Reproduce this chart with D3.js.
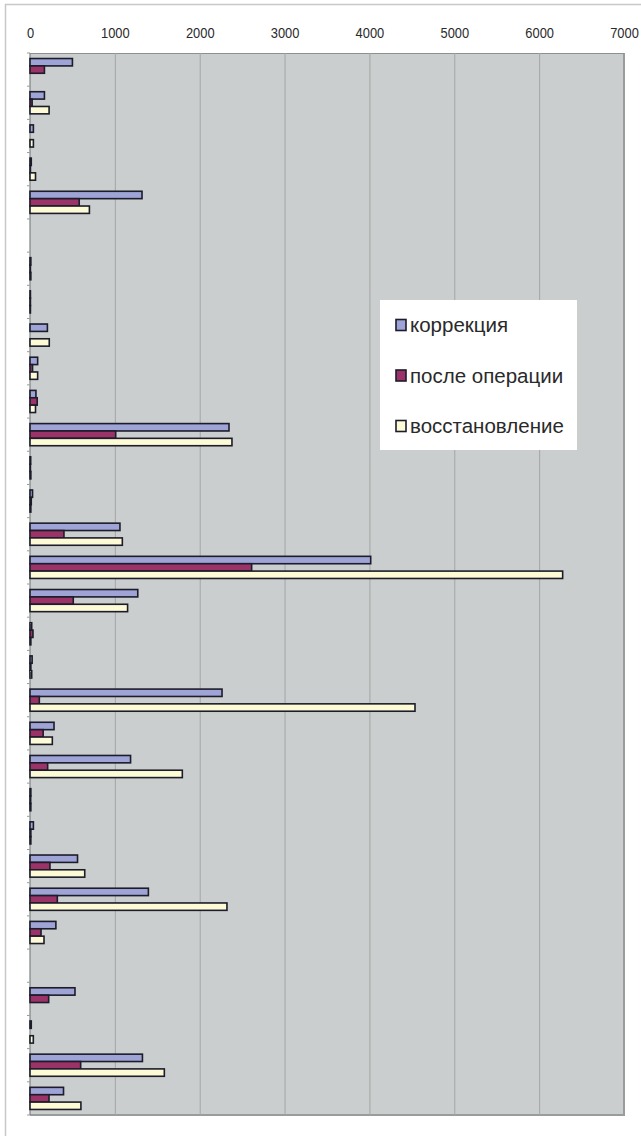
<!DOCTYPE html>
<html>
<head>
<meta charset="utf-8">
<script src="https://cdn.jsdelivr.net/npm/d3@7"></script>
<style>
  html, body { margin: 0; padding: 0; background: #fff; }
  svg { display: block; }
</style>
</head>
<body>
<svg id="chart" width="641" height="1136"></svg>
<script>
// Category slots (the chart draws them without labels)
const categories = d3.range(1, 33).map(String);

// Series values, one per category (null = no bar)
const korrekcia = [500, 170, 40, 15, 1320, null, 10, 5, 205, 90, 70, 2345, 8, 30, 1060, 4015,
                   1270, 20, 25, 2263, 283, 1185, 10, 40, 560, 1395, 305, null, 530, 15, 1325, 395];
const posleOperacii = [170, 25, 0, 5, 580, null, 5, 5, 0, 30, 85, 1010, 5, 15, 400, 2612,
                       510, 35, 10, 110, 155, 208, 8, 10, 235, 322, 130, null, 220, 0, 597, 224];
const vosstanovlenie = [0, 225, 40, 65, 700, null, 10, 5, 227, 90, 65, 2380, 10, 10, 1088, 6277,
                        1150, 10, 20, 4537, 263, 1795, 10, 10, 645, 2321, 165, null, 0, 39, 1583, 600];

const seriesNames = ["коррекция", "после операции", "восстановление"];
const seriesValues = [korrekcia, posleOperacii, vosstanovlenie];
const seriesColors = ["#9ea4d6", "#9b3368", "#fdfbd6"];

const xTicks = [0, 1000, 2000, 3000, 4000, 5000, 6000, 7000];

const svg = d3.select("#chart");
const plot = { left: 30, right: 624, top: 53, bottom: 1115 };

// Outer frame
svg.append("path")
  .attr("d", `M5.5,1136 V4.5 H641`)
  .attr("fill", "none").attr("stroke", "#c8c8c8").attr("stroke-width", 1.5);

const x = d3.scaleLinear().domain([0, 7000]).range([plot.left, plot.right]);
const y0 = d3.scaleBand().domain(categories)
  .range([plot.top, plot.bottom]).paddingInner(1 / 3).paddingOuter(1 / 6);
const y1 = d3.scaleBand().domain(d3.range(3)).range([0, y0.bandwidth()]);

// Plot background with a darker right/bottom edge
svg.append("rect")
  .attr("x", plot.left).attr("y", plot.top)
  .attr("width", plot.right - plot.left).attr("height", plot.bottom - plot.top)
  .attr("fill", "#cbcece");
svg.append("path")
  .attr("d", `M${plot.right},${plot.top} V${plot.bottom} H${plot.left}`)
  .attr("fill", "none").attr("stroke", "#9a9c9c").attr("stroke-width", 2);
svg.append("line")
  .attr("x1", plot.left).attr("x2", plot.right)
  .attr("y1", plot.top + 0.5).attr("y2", plot.top + 0.5)
  .attr("stroke", "#8e9090").attr("stroke-width", 1.2);

// Vertical gridlines
svg.append("g").selectAll("line")
  .data(xTicks.slice(1, -1))
  .join("line")
  .attr("x1", d => x(d) + 0.5).attr("x2", d => x(d) + 0.5)
  .attr("y1", plot.top).attr("y2", plot.bottom)
  .attr("stroke", "#a3a6a6").attr("stroke-width", 1);

// Top axis labels (horizontally condensed digits)
const xAxis = d3.axisTop(x).tickValues(xTicks).tickFormat(d3.format("d"))
  .tickSize(0).tickPadding(0);
const gx = svg.append("g").attr("transform", `translate(0,38)`).call(xAxis);
gx.select(".domain").remove();
gx.selectAll("text")
  .attr("font-family", "'Liberation Sans', Arial, sans-serif")
  .attr("font-size", 15).attr("fill", "#2a2a2a")
  .attr("transform", "scale(0.86,1)");

// Left axis line with small category ticks
const yEdges = d3.range(categories.length + 1).map(i => plot.top + i * y0.step());
svg.append("line")
  .attr("x1", plot.left).attr("x2", plot.left)
  .attr("y1", plot.top).attr("y2", plot.bottom)
  .attr("stroke", "#7f8282").attr("stroke-width", 1.2);
svg.append("g").selectAll("line")
  .data(yEdges)
  .join("line")
  .attr("x1", plot.left - 3).attr("x2", plot.left)
  .attr("y1", d => d).attr("y2", d => d)
  .attr("stroke", "#9a9c9c").attr("stroke-width", 1);

// Bars
const rows = categories.map((c, i) => ({ c, vals: seriesValues.map(s => s[i]) }));
const groups = svg.append("g").selectAll("g")
  .data(rows)
  .join("g")
  .attr("transform", d => `translate(0,${y0(d.c)})`);
groups.selectAll("rect")
  .data(d => d.vals.map((v, k) => ({ v, k })).filter(e => e.v != null && e.v > 0))
  .join("rect")
  .attr("x", x(0))
  .attr("y", d => y1(d.k))
  .attr("width", d => x(d.v) - x(0))
  .attr("height", y1.bandwidth())
  .attr("fill", d => seriesColors[d.k])
  .attr("stroke", "#1c1c2a")
  .attr("stroke-width", 1.6);

// Legend
const legend = svg.append("g").attr("transform", "translate(380,300)");
legend.append("rect")
  .attr("width", 197).attr("height", 150)
  .attr("fill", "#ffffff");
const items = legend.selectAll("g.item")
  .data(seriesNames)
  .join("g").attr("class", "item")
  .attr("transform", (d, i) => `translate(16,${25 + i * 50.5})`);
items.append("rect")
  .attr("x", 0).attr("y", -5.5).attr("width", 10).attr("height", 11)
  .attr("fill", (d, i) => seriesColors[i])
  .attr("stroke", "#1c1c2a").attr("stroke-width", 1.6);
items.append("text")
  .attr("x", 14).attr("y", 7)
  .attr("font-family", "'Liberation Sans', Arial, sans-serif")
  .attr("font-size", 20.5).attr("fill", "#2a2a2a")
  .text(d => d);
</script>
</body>
</html>
